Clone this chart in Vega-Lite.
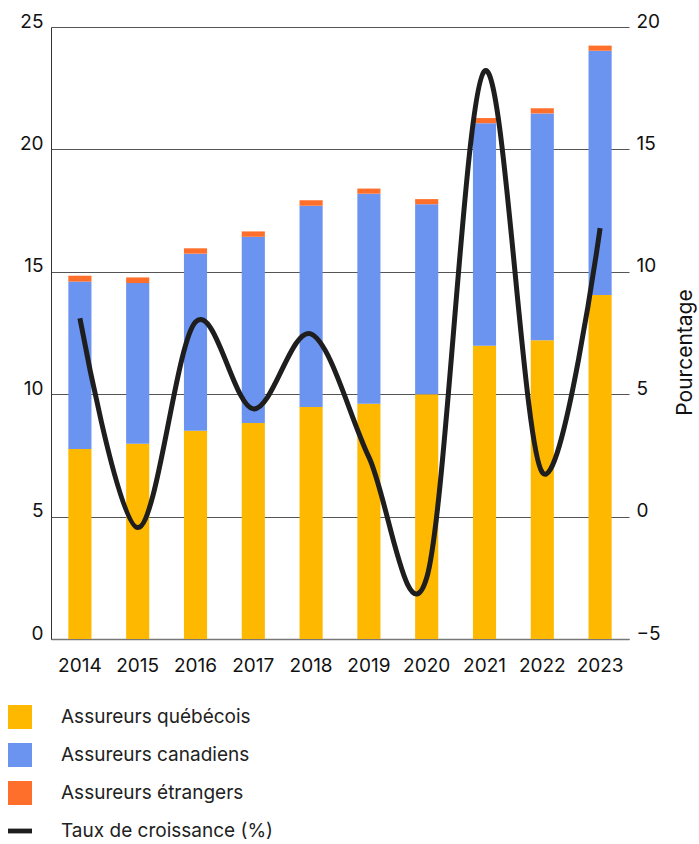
{
  "$schema": "https://vega.github.io/schema/vega-lite/v6.json",
  "autosize": {"type": "none"},
  "width": 578,
  "height": 612,
  "padding": {"left": 51, "top": 27, "right": 70, "bottom": 205},
  "background": "white",
  "config": {
    "font": "Inter",
    "view": {"stroke": null},
    "axis": {"labelFont": "Inter", "labelFontSize": 19, "labelColor": "#111", "titleFont": "Inter"},
    "legend": {"labelFont": "Inter"}
  },
  "datasets": {
    "bars": [
      {"annee": "2014", "type": "Assureurs québécois", "ordre": 1, "valeur": 7.76},
      {"annee": "2014", "type": "Assureurs canadiens", "ordre": 2, "valeur": 6.84},
      {"annee": "2014", "type": "Assureurs étrangers", "ordre": 3, "valeur": 0.24},
      {"annee": "2015", "type": "Assureurs québécois", "ordre": 1, "valeur": 7.98},
      {"annee": "2015", "type": "Assureurs canadiens", "ordre": 2, "valeur": 6.56},
      {"annee": "2015", "type": "Assureurs étrangers", "ordre": 3, "valeur": 0.23},
      {"annee": "2016", "type": "Assureurs québécois", "ordre": 1, "valeur": 8.51},
      {"annee": "2016", "type": "Assureurs canadiens", "ordre": 2, "valeur": 7.23},
      {"annee": "2016", "type": "Assureurs étrangers", "ordre": 3, "valeur": 0.22},
      {"annee": "2017", "type": "Assureurs québécois", "ordre": 1, "valeur": 8.82},
      {"annee": "2017", "type": "Assureurs canadiens", "ordre": 2, "valeur": 7.61},
      {"annee": "2017", "type": "Assureurs étrangers", "ordre": 3, "valeur": 0.22},
      {"annee": "2018", "type": "Assureurs québécois", "ordre": 1, "valeur": 9.48},
      {"annee": "2018", "type": "Assureurs canadiens", "ordre": 2, "valeur": 8.22},
      {"annee": "2018", "type": "Assureurs étrangers", "ordre": 3, "valeur": 0.22},
      {"annee": "2019", "type": "Assureurs québécois", "ordre": 1, "valeur": 9.61},
      {"annee": "2019", "type": "Assureurs canadiens", "ordre": 2, "valeur": 8.58},
      {"annee": "2019", "type": "Assureurs étrangers", "ordre": 3, "valeur": 0.21},
      {"annee": "2020", "type": "Assureurs québécois", "ordre": 1, "valeur": 10.0},
      {"annee": "2020", "type": "Assureurs canadiens", "ordre": 2, "valeur": 7.76},
      {"annee": "2020", "type": "Assureurs étrangers", "ordre": 3, "valeur": 0.21},
      {"annee": "2021", "type": "Assureurs québécois", "ordre": 1, "valeur": 11.98},
      {"annee": "2021", "type": "Assureurs canadiens", "ordre": 2, "valeur": 9.09},
      {"annee": "2021", "type": "Assureurs étrangers", "ordre": 3, "valeur": 0.21},
      {"annee": "2022", "type": "Assureurs québécois", "ordre": 1, "valeur": 12.2},
      {"annee": "2022", "type": "Assureurs canadiens", "ordre": 2, "valeur": 9.27},
      {"annee": "2022", "type": "Assureurs étrangers", "ordre": 3, "valeur": 0.21},
      {"annee": "2023", "type": "Assureurs québécois", "ordre": 1, "valeur": 14.05},
      {"annee": "2023", "type": "Assureurs canadiens", "ordre": 2, "valeur": 9.98},
      {"annee": "2023", "type": "Assureurs étrangers", "ordre": 3, "valeur": 0.21}
    ],
    "taux": [
      {"annee": "2014", "serie": "Taux de croissance (%)", "taux": 8.1},
      {"annee": "2015", "serie": "Taux de croissance (%)", "taux": -0.45},
      {"annee": "2016", "serie": "Taux de croissance (%)", "taux": 7.95},
      {"annee": "2017", "serie": "Taux de croissance (%)", "taux": 4.4},
      {"annee": "2018", "serie": "Taux de croissance (%)", "taux": 7.46},
      {"annee": "2019", "serie": "Taux de croissance (%)", "taux": 2.43},
      {"annee": "2020", "serie": "Taux de croissance (%)", "taux": -2.5},
      {"annee": "2021", "serie": "Taux de croissance (%)", "taux": 18.2},
      {"annee": "2022", "serie": "Taux de croissance (%)", "taux": 1.8},
      {"annee": "2023", "serie": "Taux de croissance (%)", "taux": 11.78}
    ]
  },
  "encoding": {
    "x": {
      "field": "annee",
      "type": "ordinal",
      "scale": {"paddingInner": 0.6, "paddingOuter": 0.3},
      "axis": {
        "title": null,
        "labelAngle": 0,
        "ticks": false,
        "domain": true,
        "domainColor": "#777",
        "domainWidth": 1.5,
        "labelPadding": 17,
        "labelBaseline": "top"
      }
    }
  },
  "layer": [
    {
      "data": {"name": "bars"},
      "mark": {"type": "bar"},
      "encoding": {
        "y": {
          "field": "valeur",
          "type": "quantitative",
          "aggregate": "sum",
          "stack": "zero",
          "scale": {"domain": [0, 25], "nice": false},
          "axis": {
            "title": null,
            "values": [0, 5, 10, 15, 20, 25],
            "ticks": false,
            "domain": true,
            "domainColor": "#333",
            "grid": true,
            "gridColor": "#555",
            "gridWidth": 1,
            "labelPadding": 8,
            "labelBaseline": "alphabetic"
          }
        },
        "order": {"field": "ordre", "type": "quantitative"},
        "color": {
          "field": "type",
          "type": "nominal",
          "scale": {
            "domain": ["Assureurs québécois", "Assureurs canadiens", "Assureurs étrangers", "Taux de croissance (%)"],
            "range": ["#FFB800", "#6B93F0", "#FF6F2C", "#1E1E1E"]
          },
          "legend": {
            "title": null,
            "orient": "none",
            "legendX": -43,
            "legendY": 678,
            "direction": "vertical",
            "symbolType": "square",
            "symbolSize": 576,
            "symbolStrokeWidth": 0,
            "symbolOpacity": 1,
            "labelFontSize": 19,
            "labelLimit": 0,
            "labelColor": "#222",
            "labelOffset": 29,
            "rowPadding": 14,
            "encode": {
              "symbols": {
                "update": {
                  "shape": {"signal": "datum.value === 'Taux de croissance (%)' ? 'M-1,-0.2H1V0.2H-1Z' : 'square'"}
                }
              }
            }
          }
        }
      }
    },
    {
      "data": {"name": "taux"},
      "mark": {"type": "line", "interpolate": "cardinal", "strokeWidth": 5, "color": "#1E1E1E"},
      "encoding": {
        "y": {
          "field": "taux",
          "type": "quantitative",
          "scale": {"domain": [-5, 20], "nice": false},
          "axis": {
            "orient": "right",
            "title": "Pourcentage",
            "titleFontSize": 21,
            "titleFontWeight": "normal",
            "titleColor": "#111",
            "titleAngle": 270,
            "titleX": 56,
            "titleY": 325,
            "titleAlign": "center",
            "titleBaseline": "middle",
            "values": [-5, 0, 5, 10, 15, 20],
            "ticks": false,
            "domain": false,
            "grid": false,
            "labelPadding": 7,
            "labelBaseline": "alphabetic"
          }
        }
      }
    }
  ],
  "resolve": {"scale": {"y": "independent"}}
}
